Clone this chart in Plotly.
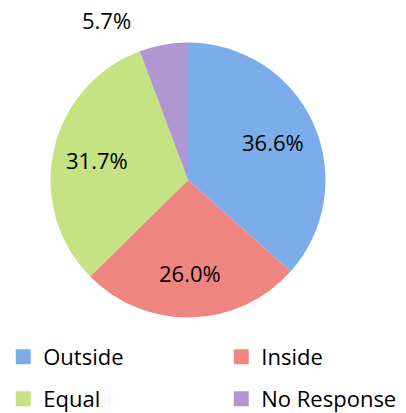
import math
import plotly.graph_objects as go

# Survey response shares
categories = ["Outside", "Inside", "Equal", "No Response"]
shares = [36.6, 26.0, 31.7, 5.7]
colors = ["#7badea", "#ef8580", "#c5e383", "#b197d2"]

FONT = "Open Sans"
FSIZE = 22
W, H = 406, 413

# Pie placement (paper fractions)
dom_x = [0.1244, 0.8017]
dom_y = [0.2312, 0.8971]

fig = go.Figure()
fig.add_trace(go.Pie(
    labels=categories,
    values=shares,
    sort=False,
    direction="clockwise",
    rotation=0,
    textinfo="none",
    marker=dict(colors=colors, line=dict(width=0)),
    showlegend=False,
    domain=dict(x=dom_x, y=dom_y),
    hoverinfo="label+percent",
))

# Percentage labels, placed along each slice's bisector
cx = (dom_x[0] + dom_x[1]) / 2
cy = (dom_y[0] + dom_y[1]) / 2
r_px = min((dom_x[1] - dom_x[0]) * W, (dom_y[1] - dom_y[0]) * H) / 2
label_r = 0.68 * r_px
total = sum(shares)
cum = 0.0
for i, v in enumerate(shares):
    mid = (cum + v / 2) / total * 2 * math.pi
    cum += v
    if i == len(shares) - 1:
        # small slice: label sits above the pie, to the left
        lx, ly = 0.263, 0.952
    else:
        lx = cx + label_r * math.sin(mid) / W
        ly = cy + label_r * math.cos(mid) / H
    fig.add_annotation(
        x=lx, y=ly, xref="paper", yref="paper",
        xanchor="center", yanchor="middle",
        text=f"{v:.1f}%", showarrow=False,
        font=dict(family=FONT, size=FSIZE, color="#000000"),
    )

# Legend: one entry per legend box, arranged in a 2x2 grid
legend_ids = ["legend", "legend2", "legend3", "legend4"]
legend_x = [0.008, 0.545, 0.008, 0.545]
legend_y = [0.1356, 0.1356, 0.0339, 0.0339]

for name, col, lg in zip(categories, colors, legend_ids):
    fig.add_trace(go.Scatter(
        x=[None], y=[None], mode="markers", name=name,
        marker=dict(symbol="square", size=15, color=col),
        legend=lg,
    ))

legend_layout = {}
for lg, lx, ly in zip(legend_ids, legend_x, legend_y):
    legend_layout[lg] = dict(
        orientation="h",
        xref="container", yref="container",
        xanchor="left", yanchor="middle",
        x=lx, y=ly,
        font=dict(family=FONT, size=FSIZE, color="#000000"),
        bgcolor="rgba(0,0,0,0)",
        itemsizing="trace",
    )

fig.update_layout(
    width=W,
    height=H,
    margin=dict(l=0, r=0, t=0, b=0, autoexpand=False),
    paper_bgcolor="#ffffff",
    plot_bgcolor="#ffffff",
    xaxis=dict(visible=False),
    yaxis=dict(visible=False),
    **legend_layout,
)

fig.write_html("out.html")
